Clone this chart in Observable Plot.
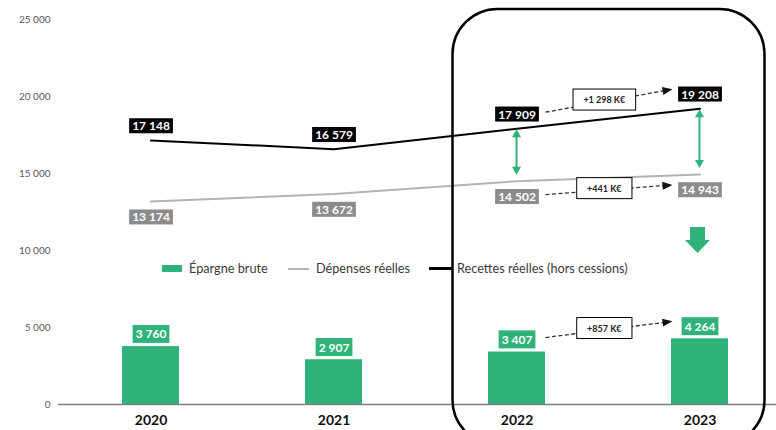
<!DOCTYPE html>
<html>
<head>
<meta charset="utf-8">
<script src="https://cdn.jsdelivr.net/npm/d3@7"></script>
<script src="https://cdn.jsdelivr.net/npm/@observablehq/plot@0.6"></script>
<style>
  html, body { margin: 0; padding: 0; background: #fff; }
  #wrap { position: relative; width: 776px; height: 430px; overflow: hidden; font-family: Lato, sans-serif; }
  .leg { position: absolute; white-space: nowrap; }
  .legtxt { font-size: 12.7px; color: #3a3a3a; top: 260px; }
</style>
</head>
<body>
<div id="wrap"></div>
<script>
const years = ["2020", "2021", "2022", "2023"];
const epargne = [3760, 2907, 3407, 4264];
const depenses = [13174, 13672, 14502, 14943];
const recettes = [17148, 16579, 17909, 19208];
const yTicks = [0, 5000, 10000, 15000, 20000, 25000];
const deltaLabels = ["+1 298 K€", "+441 K€", "+857 K€"];
const seriesNames = ["Épargne brute", "Dépenses réelles", "Recettes réelles (hors cessions)"];

const GREEN = "#30b27b", GRAYBOX = "#8c8c8c", GRAYLINE = "#b3b3b3";

const fr = d3.formatLocale({decimal: ",", thousands: "\u00a0", grouping: [3], currency: ["", "€"]});
const fmt = fr.format(",d");

const data = years.map((y, i) => ({year: y, epargne: epargne[i], depenses: depenses[i], recettes: recettes[i]}));

const plot = Plot.plot({
  width: 776,
  height: 430,
  marginLeft: 58,
  marginRight: 0,
  marginTop: 19,
  marginBottom: 26,
  style: {fontFamily: "Lato, sans-serif", fontSize: "10px", background: "#fff"},
  x: {domain: years, range: [58, 792], paddingInner: 0.69, paddingOuter: 0.345, label: null},
  y: {domain: [0, 25000], label: null},
  marks: [
    Plot.axisY(yTicks, {tickSize: 0, tickPadding: 8, tickFormat: fmt, fill: "#595959", fontSize: 10}),
    Plot.axisX({tickSize: 0, tickPadding: 11, fontSize: 14, fontWeight: "bold", fill: "#111"}),
    Plot.barY(data, {x: "year", y: "epargne", fill: GREEN}),
    Plot.ruleY([0], {stroke: "#808080", strokeWidth: 1.5}),
    Plot.lineY(data, {x: "year", y: "depenses", stroke: GRAYLINE, strokeWidth: 2}),
    Plot.lineY(data, {x: "year", y: "recettes", stroke: "#000", strokeWidth: 2}),
    Plot.text(data, {x: "year", y: "recettes", text: d => fmt(d.recettes), dy: -14, fill: "#fff", fontWeight: "bold", fontSize: 12}),
    Plot.text(data, {x: "year", y: "depenses", text: d => fmt(d.depenses), dy: 16, fill: "#fff", fontWeight: "bold", fontSize: 12}),
    Plot.text(data, {x: "year", y: "epargne", text: d => fmt(d.epargne), dy: -12, fill: "#fff", fontWeight: "bold", fontSize: 12})
  ]
});

const wrap = document.getElementById("wrap");
wrap.appendChild(plot);

// label backgrounds, matched by label content
const svgNS = "http://www.w3.org/2000/svg";
const boxColor = new Map();
recettes.forEach(v => boxColor.set(fmt(v), {c: "#000", py: 0}));
depenses.forEach(v => boxColor.set(fmt(v), {c: GRAYBOX, py: 0}));
epargne.forEach(v => boxColor.set(fmt(v), {c: GREEN, py: 1.5}));
plot.querySelectorAll("text").forEach(t => {
  const info = boxColor.get(t.textContent);
  if (!info) return;
  const bb = t.getBBox();
  const r = document.createElementNS(svgNS, "rect");
  r.setAttribute("x", bb.x - 3);
  r.setAttribute("y", bb.y - info.py);
  r.setAttribute("width", bb.width + 6);
  r.setAttribute("height", bb.height + 2 * info.py);
  r.setAttribute("fill", info.c);
  if (t.getAttribute("transform")) r.setAttribute("transform", t.getAttribute("transform"));
  t.parentNode.insertBefore(r, t);
});

// annotations via library scales
const xs = plot.scale("x"), ys = plot.scale("y");
const cx = v => xs.apply(v) + xs.bandwidth / 2;
const Y = v => ys.apply(v);
const svg = d3.select(plot);
const g = svg.append("g");

function tri(tx, ty, ang, L, W, color) {
  const ux = Math.cos(ang), uy = Math.sin(ang);
  const bx = tx - ux * L, by = ty - uy * L;
  const px = -uy * W / 2, py = ux * W / 2;
  g.append("path").attr("d", `M${tx},${ty}L${bx + px},${by + py}L${bx - px},${by - py}Z`).attr("fill", color);
}

// green double arrows between recettes and depenses
[2, 3].forEach(i => {
  const x = cx(years[i]);
  const top = Y(recettes[i]) + 1, bot = Y(depenses[i]) - 6;
  g.append("line").attr("x1", x).attr("x2", x).attr("y1", top + 6).attr("y2", bot - 6)
    .attr("stroke", GREEN).attr("stroke-width", 2);
  tri(x, top, -Math.PI / 2, 8, 9, GREEN);
  tri(x, bot, Math.PI / 2, 8, 9, GREEN);
});

// dashed delta arrows with boxes
const pairs = [
  {a: recettes[2], b: recettes[3], off: -14, lab: deltaLabels[0]},
  {a: depenses[2], b: depenses[3], off: 16, lab: deltaLabels[1]},
  {a: epargne[2], b: epargne[3], off: -12, lab: deltaLabels[2]}
];
pairs.forEach(p => {
  const x1 = cx(years[2]) + 29, y1 = Y(p.a) + p.off - 2;
  const x2 = cx(years[3]) - 27, y2 = Y(p.b) + p.off - 5;
  const ang = Math.atan2(y2 - y1, x2 - x1);
  g.append("line").attr("x1", x1).attr("y1", y1)
    .attr("x2", x2 - Math.cos(ang) * 8).attr("y2", y2 - Math.sin(ang) * 8)
    .attr("stroke", "#333").attr("stroke-width", 1.3).attr("stroke-dasharray", "4,2.5");
  tri(x2, y2, ang, 10, 8, "#111");
  const mx = cx(years[2]) + (cx(years[3]) - cx(years[2])) * 0.48;
  const t = (mx - x1) / (x2 - x1);
  const my = y1 + (y2 - y1) * t - 2;
  const rect = g.append("rect").attr("fill", "#fff").attr("stroke", "#000").attr("stroke-width", 1);
  const txt = g.append("text").attr("x", mx).attr("y", my).attr("text-anchor", "middle")
    .attr("dominant-baseline", "central").attr("font-size", 9).attr("font-weight", "bold")
    .attr("fill", "#222").text(p.lab);
  const bb = txt.node().getBBox();
  rect.attr("x", mx - bb.width / 2 - 10).attr("y", my - 10.5).attr("width", bb.width + 20).attr("height", 21);
});

// green down arrow
{
  const x = cx(years[3]) - 2;
  const top = Y(10000) - 23;
  g.append("path")
    .attr("d", `M${x - 7.5},${top}H${x + 7.5}V${top + 13}H${x + 12.5}L${x},${top + 26}L${x - 12.5},${top + 13}H${x - 7.5}Z`)
    .attr("fill", GREEN);
}

// highlight rounded rectangle
{
  const left = cx(years[2]) - 64, right = cx(years[3]) + 65;
  const top = Y(25000) - 10, bottom = Y(0) + 41;
  g.append("rect").attr("x", left).attr("y", top).attr("width", right - left).attr("height", bottom - top)
    .attr("rx", 45).attr("ry", 45).attr("fill", "none").attr("stroke", "#000").attr("stroke-width", 2.5);
}

// legend (overlay)
const leg = [
  {sw: {left: 162, top: 265, w: 20, h: 7, c: GREEN}, txtLeft: 189},
  {sw: {left: 288, top: 267.5, w: 21, h: 2, c: GRAYLINE}, txtLeft: 316},
  {sw: {left: 429, top: 267, w: 23, h: 2.5, c: "#000"}, txtLeft: 457}
];
leg.forEach((l, i) => {
  const s = document.createElement("div");
  s.className = "leg";
  Object.assign(s.style, {left: l.sw.left + "px", top: l.sw.top + "px", width: l.sw.w + "px", height: l.sw.h + "px", background: l.sw.c});
  wrap.appendChild(s);
  const t = document.createElement("div");
  t.className = "leg legtxt";
  t.style.left = l.txtLeft + "px";
  t.textContent = seriesNames[i];
  wrap.appendChild(t);
});
</script>
</body>
</html>
